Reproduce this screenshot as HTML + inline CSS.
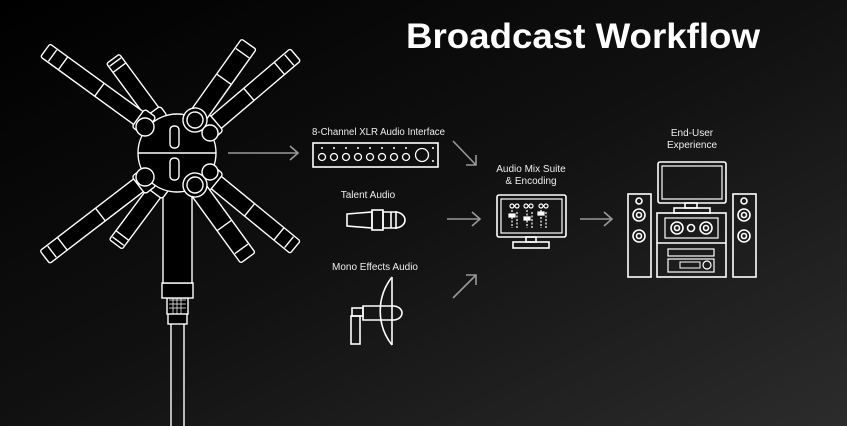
<!DOCTYPE html>
<html><head><meta charset="utf-8"><style>
html,body{margin:0;padding:0;background:#000}
svg{display:block}
text{font-family:"Liberation Sans",sans-serif;fill:#fff}
.l{font-family:"Liberation Sans Narrow","Liberation Sans",sans-serif;font-size:10px;fill:#eee}
</style></head><body>
<svg width="847" height="426" viewBox="0 0 847 426" xmlns="http://www.w3.org/2000/svg">
<defs>
<linearGradient id="bg" x1="0" y1="0" x2="1" y2="1">
<stop offset="0" stop-color="#000"/><stop offset="0.5" stop-color="#111"/><stop offset="1" stop-color="#2c2c2c"/>
</linearGradient>
<g id="arm">
<rect x="4" y="-8" width="L" height="16" fill="#000"/>
</g>
</defs>
<rect width="847" height="426" fill="url(#bg)"/>
<text x="406" y="48" font-size="35" font-weight="bold" textLength="354" lengthAdjust="spacingAndGlyphs">Broadcast Workflow</text>

<!-- microphone -->
<g stroke="#fff" stroke-width="1.4" fill="#000">
<!-- stem and pole -->
<line x1="171" y1="320" x2="171" y2="426"/><line x1="184" y1="320" x2="184" y2="426"/>
<rect x="168" y="312" width="19" height="12"/>
<rect x="167" y="298" width="21" height="16"/>
<path d="M169 300h17M169 304h17M169 308h17M173 298v16M177 298v16M181 298v16" stroke-width="0.7"/>
<rect x="162" y="283" width="31" height="15"/>
<rect x="163" y="185" width="29" height="98"/>
<!-- arms -->
<g transform="translate(158,120) rotate(233.6)"><rect x="0" y="-8" width="76" height="16" rx="2"/><rect x="-2" y="-10" width="12" height="20" rx="3"/><line x1="65" y1="-8" x2="65" y2="8"/><line x1="72" y1="-7" x2="72" y2="7"/></g>
<g transform="translate(160,185) rotate(126.7)"><rect x="0" y="-8" width="74" height="16" rx="2"/><rect x="-2" y="-10" width="12" height="20" rx="3"/><line x1="63" y1="-8" x2="63" y2="8"/><line x1="70" y1="-7" x2="70" y2="7"/></g>
<g transform="translate(148,125) rotate(216)"><rect x="0" y="-8" width="127" height="16" rx="2"/><rect x="-2" y="-11" width="14" height="22" rx="3"/><line x1="60" y1="-8" x2="60" y2="8"/><line x1="105" y1="-8" x2="105" y2="8"/><line x1="118" y1="-7" x2="118" y2="7"/></g>
<g transform="translate(148,178) rotate(142.5)"><rect x="0" y="-8" width="130" height="16" rx="2"/><rect x="-2" y="-11" width="14" height="22" rx="3"/><line x1="60" y1="-8" x2="60" y2="8"/><line x1="108" y1="-8" x2="108" y2="8"/><line x1="121" y1="-7" x2="121" y2="7"/></g>
<g transform="translate(207,130) rotate(-40.4)"><rect x="0" y="-8" width="116" height="16" rx="2"/><rect x="-2" y="-11" width="14" height="22" rx="3"/><line x1="55" y1="-8" x2="55" y2="8"/><line x1="95" y1="-8" x2="95" y2="8"/><line x1="108" y1="-7" x2="108" y2="7"/></g>
<g transform="translate(207,175) rotate(39.3)"><rect x="0" y="-8" width="114" height="16" rx="2"/><rect x="-2" y="-11" width="14" height="22" rx="3"/><line x1="55" y1="-8" x2="55" y2="8"/><line x1="93" y1="-8" x2="93" y2="8"/><line x1="106" y1="-7" x2="106" y2="7"/></g>
<circle cx="177" cy="153" r="39"/>
<line x1="138" y1="153" x2="216" y2="153"/>
<rect x="170" y="126" width="9" height="22" rx="4"/><rect x="170" y="158" width="9" height="22" rx="4"/>
<g transform="translate(195,120) rotate(-54.6)"><rect x="0" y="-9" width="93" height="18" rx="2"/><circle cx="0" cy="0" r="12"/><circle cx="0" cy="0" r="8"/><line x1="50" y1="-9" x2="50" y2="9"/><line x1="82" y1="-8" x2="82" y2="8"/></g>
<g transform="translate(195,185) rotate(54)"><rect x="0" y="-9" width="90" height="18" rx="2"/><circle cx="0" cy="0" r="12"/><circle cx="0" cy="0" r="8"/><line x1="50" y1="-9" x2="50" y2="9"/><line x1="79" y1="-8" x2="79" y2="8"/></g>
<circle cx="145" cy="127" r="9"/><circle cx="145" cy="177" r="9"/><circle cx="210" cy="133" r="8"/><circle cx="210" cy="172" r="8"/>
</g>

<!-- arrows -->
<g stroke="#999" stroke-width="1.6" fill="none">
<path d="M228 153H298M290 146l8 7-8 7"/>
<path d="M453 141L476 165M466 165h10v-10"/>
<path d="M447 219H480M472 212l8 7-8 7"/>
<path d="M453 298L476 275M466 275h10v10"/>
<path d="M580 219H612M604 212l8 7-8 7"/>
</g>

<!-- labels -->
<text class="l" x="312" y="135" textLength="133" lengthAdjust="spacingAndGlyphs">8-Channel XLR Audio Interface</text>
<text class="l" x="368" y="198" text-anchor="middle">Talent Audio</text>
<text class="l" x="375" y="270" text-anchor="middle">Mono Effects Audio</text>
<text class="l" x="531" y="172" text-anchor="middle">Audio Mix Suite</text>
<text class="l" x="531" y="184" text-anchor="middle">&amp; Encoding</text>
<text class="l" x="692" y="136" text-anchor="middle">End-User</text>
<text class="l" x="692" y="148" text-anchor="middle">Experience</text>

<g stroke="#fff" stroke-width="1.6" fill="none">
<!-- interface -->
<rect x="313" y="143" width="125" height="24"/>
<g stroke-width="1.3">
<circle cx="322" cy="157" r="3.5"/><circle cx="334" cy="157" r="3.5"/><circle cx="346" cy="157" r="3.5"/><circle cx="358" cy="157" r="3.5"/><circle cx="370" cy="157" r="3.5"/><circle cx="382" cy="157" r="3.5"/><circle cx="394" cy="157" r="3.5"/><circle cx="406" cy="157" r="3.5"/>
<circle cx="422" cy="155" r="6.5"/>
</g>
<g fill="#fff" stroke="none"><circle cx="322" cy="148" r="1"/><circle cx="334" cy="148" r="1"/><circle cx="346" cy="148" r="1"/><circle cx="358" cy="148" r="1"/><circle cx="370" cy="148" r="1"/><circle cx="382" cy="148" r="1"/><circle cx="394" cy="148" r="1"/><circle cx="406" cy="148" r="1"/><circle cx="433" cy="148" r="1"/><circle cx="433" cy="161" r="1"/></g>
<!-- talent mic -->
<path d="M347 214L372 212V228L347 226Z"/>
<rect x="372" y="210" width="11" height="20"/>
<path d="M383 212h12a10 8 0 0 1 0 16h-12Z"/>
<line x1="391" y1="212" x2="391" y2="228"/><line x1="396" y1="211" x2="396" y2="229"/>
<!-- parabolic -->
<path d="M392 277A55 55 0 0 0 392 345"/>
<line x1="392" y1="277" x2="392" y2="345"/>
<path d="M363 306h30a9 7 0 0 1 0 14h-30Z"/>
<rect x="352" y="308" width="11" height="8"/>
<rect x="351" y="316" width="9" height="28"/>
<!-- monitor -->
<rect x="497" y="195" width="69" height="42" rx="2"/>
<rect x="501" y="199" width="61" height="34" stroke-width="1.2"/>
<rect x="526" y="237" width="10" height="5"/>
<rect x="513" y="242" width="36" height="6"/>
<g stroke-width="1.2"><circle cx="512" cy="206" r="2"/><circle cx="517" cy="206" r="2"/><circle cx="526" cy="206" r="2"/><circle cx="531" cy="206" r="2"/><circle cx="541" cy="206" r="2"/><circle cx="546" cy="206" r="2"/>
<path d="M512 210v18M527 210v18M541 210v18M517 212v16M532 212v16M546 212v16" stroke-dasharray="2 1.5"/>
<rect x="509" y="214" width="6" height="3" fill="#fff"/><rect x="524" y="217" width="6" height="3" fill="#fff"/><rect x="538" y="212" width="6" height="3" fill="#fff"/></g>
<!-- home theater -->
<rect x="658" y="162" width="68" height="41" rx="2"/>
<rect x="662" y="166" width="60" height="33" stroke-width="1.2"/>
<rect x="685" y="203" width="12" height="5"/>
<rect x="674" y="208" width="36" height="5"/>
<rect x="628" y="194" width="23" height="83"/>
<rect x="733" y="194" width="23" height="83"/>
<circle cx="639" cy="201" r="3"/><circle cx="639" cy="215" r="6"/><circle cx="639" cy="215" r="2.5"/><circle cx="639" cy="236" r="6"/><circle cx="639" cy="236" r="2.5"/>
<circle cx="744" cy="201" r="3"/><circle cx="744" cy="215" r="6"/><circle cx="744" cy="215" r="2.5"/><circle cx="744" cy="236" r="6"/><circle cx="744" cy="236" r="2.5"/>
<rect x="657" y="213" width="69" height="64"/>
<line x1="657" y1="243" x2="726" y2="243"/>
<rect x="665" y="218" width="53" height="20" stroke-width="1.2"/>
<circle cx="677" cy="228" r="6"/><circle cx="677" cy="228" r="2.5"/><circle cx="691" cy="228" r="3.5"/><circle cx="706" cy="228" r="6"/><circle cx="706" cy="228" r="2.5"/>
<rect x="668" y="249" width="46" height="7" stroke-width="1.2"/>
<rect x="668" y="259" width="46" height="13" stroke-width="1.2"/>
<rect x="680" y="262" width="20" height="6" stroke-width="1"/>
<circle cx="707" cy="265" r="4" stroke-width="1.2"/>
</g>
</svg>
</body></html>
